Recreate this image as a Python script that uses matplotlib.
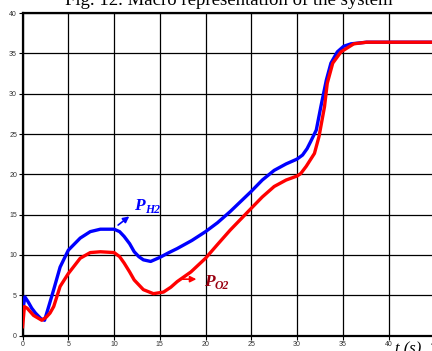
import matplotlib
matplotlib.use("Agg")
import matplotlib.pyplot as plt

# readings (time in s, pressure)
t_h2 = [0, 0.25, 0.6, 1.0, 1.4, 2.0, 2.4, 2.8, 3.4, 4.1, 5.0, 6.3, 7.4, 8.5,
        10.0, 10.6, 11.1, 11.7, 12.2, 12.7, 13.2, 14.0, 15.0, 16.0, 16.9,
        18.5, 20.0, 21.3, 22.7, 25.0, 26.2, 27.5, 28.8, 30.0, 30.6, 31.1,
        31.5, 32.1, 32.6, 33.2, 33.7, 34.4, 35.1, 35.9, 37.6, 45]
p_h2 = [3.0, 4.8, 4.2, 3.4, 2.8, 2.1, 1.9, 3.4, 5.7, 8.5, 10.6, 12.1, 12.9, 13.2,
        13.2, 12.9, 12.3, 11.4, 10.4, 9.8, 9.4, 9.2, 9.7, 10.3, 10.8,
        11.8, 12.9, 14.0, 15.4, 17.9, 19.3, 20.5, 21.3, 21.9, 22.4, 23.2,
        24.1, 25.5, 28.4, 31.7, 33.8, 35.2, 35.9, 36.2, 36.4, 36.4]

t_o2 = [0, 0.2, 0.5, 1.2, 2.1, 2.6, 3.0, 3.4, 4.1, 5.0, 6.3, 7.4, 8.5, 10.0,
        10.6, 11.1, 11.7, 12.2, 13.2, 14.3, 15.4, 16.2, 16.9, 18.4, 20.0,
        21.3, 22.7, 25.0, 26.2, 27.5, 28.8, 30.0, 30.4, 31.0, 31.9, 32.4,
        33.0, 33.3, 33.9, 34.8, 36.2, 37.6, 45]
p_o2 = [1.1, 3.6, 3.4, 2.5, 1.9, 2.3, 2.8, 3.6, 6.1, 7.7, 9.6, 10.3, 10.4, 10.3,
        9.8, 9.0, 7.9, 6.9, 5.7, 5.2, 5.4, 6.0, 6.7, 7.9, 9.6,
        11.3, 13.1, 15.8, 17.2, 18.5, 19.3, 19.8, 20.1, 21.0, 22.6, 24.7,
        28.4, 31.3, 33.8, 35.2, 36.2, 36.4, 36.4]

x_ticks = list(range(0, 50, 5))
y_ticks = list(range(0, 45, 5))

fig = plt.figure(figsize=(4.32, 3.51), dpi=100)
ax = fig.add_axes([0.0523, 0.0439, 0.953, 0.9185])

ax.plot(t_h2, p_h2, color="#0000ff", lw=2.4, zorder=3)
ax.plot(t_o2, p_o2, color="#ff0000", lw=2.4, zorder=3)

ax.set_xlim(0, 45)
ax.set_ylim(0, 40)
ax.set_xticks(x_ticks)
ax.set_yticks(y_ticks)
ax.grid(True, color="black", lw=0.9, ls="-")
ax.tick_params(labelsize=5, length=3, width=0.8, pad=1, colors="black")
for lab in ax.get_xticklabels() + ax.get_yticklabels():
    lab.set_family("Liberation Sans")
    lab.set_color("#333333")
for side in ["left", "bottom", "top"]:
    ax.spines[side].set_linewidth(1.6)

# series labels
lbl = dict(family="Liberation Serif", fontweight="bold", style="italic")
ax.annotate("", xy=(11.9, 15.0), xytext=(10.2, 13.5),
            arrowprops=dict(arrowstyle="-|>", color="#0000ff", lw=1.2, mutation_scale=9))
ax.text(12.2, 15.6, "P", color="#0000ff", fontsize=12.5, **lbl)
ax.text(13.4, 15.2, "H2", color="#0000ff", fontsize=8.5, **lbl)
ax.annotate("", xy=(19.3, 7.0), xytext=(17.2, 7.0),
            arrowprops=dict(arrowstyle="-|>", color="#ff0000", lw=1.2, mutation_scale=9))
ax.text(19.8, 6.2, "P", color="#9a0010", fontsize=12.5, **lbl)
ax.text(21.0, 5.8, "O2", color="#9a0010", fontsize=8.5, **lbl)

fig.text(0.53, 0.985, "Fig. 12. Macro representation of the system",
         ha="center", va="baseline", fontsize=13.5, family="Liberation Serif")
fig.text(0.945, -0.008, "t (s)", ha="center", va="baseline", fontsize=12,
         family="Liberation Serif", style="italic")

fig.savefig("out.png", dpi=100)
